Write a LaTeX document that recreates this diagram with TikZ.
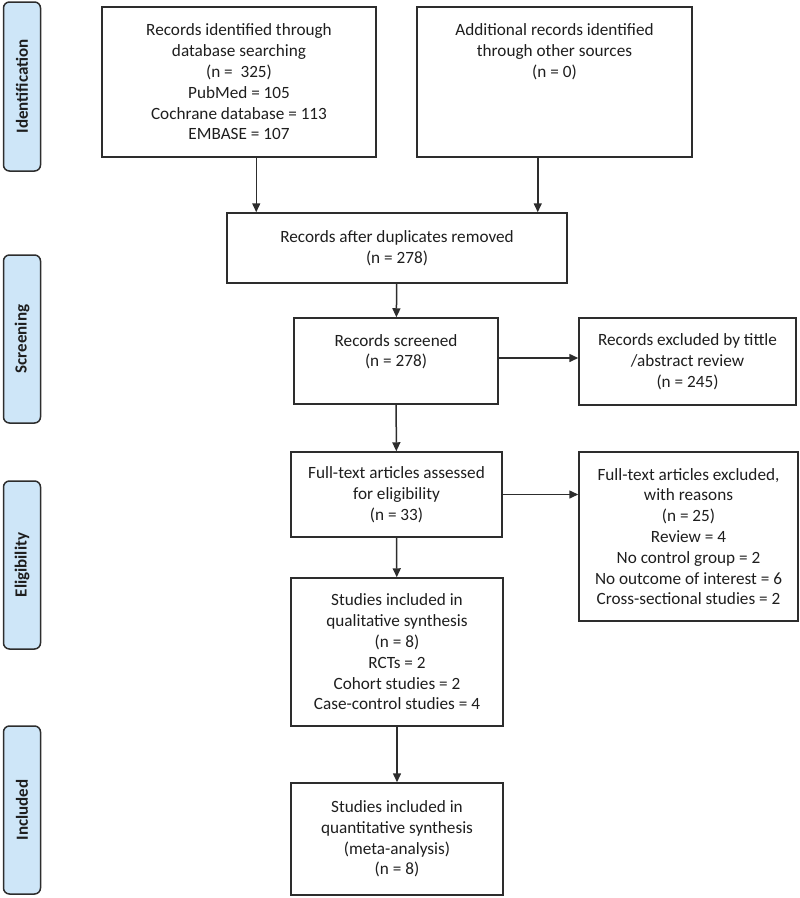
\documentclass[tikz,border=0pt]{standalone}
\usepackage{fontspec}
\setmainfont{Carlito}
\usetikzlibrary{positioning,arrows.meta,calc}
\definecolor{colorstage} {RGB}{206,230,248}
\definecolor{colorline}  {RGB}{ 45, 45, 45}
\definecolor{colortext}  {RGB}{ 30, 30, 30}

\begin{document}
\begin{tikzpicture}[
    x=1pt, y=-1pt, thick,
    stage/.style={draw=colorline,fill=colorstage,line width=1.5pt,rounded corners=6pt,
        minimum width=37pt,minimum height=168pt,inner sep=0pt},
    stagetext/.style={text=colortext,font={\fontsize{17}{20}\selectfont\bfseries},rotate=90},
    box/.style={draw=colorline,line width=1.5pt,align=center,inner sep=0pt,
        text=colortext,font={\fontsize{17.2}{20.8}\selectfont}},
    flow/.style={draw=colorline,line width=1.5pt,-{Triangle[length=9pt,width=8pt]}}
]
    \useasboundingbox (0,0) rectangle (800,898);

    % Stages
    \node[stage,minimum height=169pt] (sident) at (22,86.5) {};
    \node[stagetext] (tident) at (sident.center) {Identification};
    \node[stage] (sscreen) at (22,339) {};
    \node[stagetext] (tscreen) at (sscreen.center) {Screening};
    \node[stage] (selig) at (22,565) {};
    \node[stagetext] (telig) at (selig.center) {Eligibility};
    \node[stage] (sincl) at (22,810) {};
    \node[stagetext] (tincl) at (sincl.center) {Included};

    % Identification
    \node[box,minimum width=274pt,minimum height=150pt] (database) at (239,82)
        {Records identified through\\database searching\\(n = ~325)\\PubMed = 105\\Cochrane database = 113\\EMBASE = 107};
    \node[box,minimum width=275pt,minimum height=150pt] (other) at (554.5,82)
        {Additional records identified\\through other sources\\(n = 0)\\~\\~\\~};
    \node[box,minimum width=340pt,minimum height=70pt] (dedup) at (397,248)
        {Records after duplicates removed\\(n = 278)};

    % Arrows to duplicates removed
    \draw[flow] ([xshift=30]dedup.north west |- database.south) -- ([xshift=30]dedup.north west);
    \draw[flow] ([xshift=-30]dedup.north east |- other.south) -- ([xshift=-30]dedup.north east);

    % Screening
    \node[box,minimum width=204pt,minimum height=86pt] (screened) at (396,361)
        {Records screened\\(n = 278)\\~};
    \node[box,minimum width=217pt,minimum height=87pt] (excltitle) at (687.5,361.5)
        {Records excluded by tittle\\/abstract review\\(n = 245)};
    \draw[flow] (dedup) -- (screened);
    \draw[flow] ([yshift=3]screened.east) -- ([yshift=3]excltitle.west |- screened.east);

    % Eligibility
    \node[box,minimum width=211pt,minimum height=85pt] (fulltext) at (396.5,494.5)
        {Full-text articles assessed\\for eligibility\\(n = 33)};
    \node[box,minimum width=219pt,minimum height=169pt] (exclfull) at (688.5,536.5)
        {Full-text articles excluded,\\with reasons\\(n = 25)\\Review = 4\\No control group = 2\\No outcome of interest = 6\\Cross-sectional studies = 2};
    \draw[flow] (screened) -- (fulltext);
    \draw[flow] (fulltext.east) -- (exclfull.west |- fulltext.east);
    \node[box,minimum width=212pt,minimum height=148pt] (qualit) at (397,652)
        {Studies included in\\qualitative synthesis\\(n = 8)\\RCTs = 2\\Cohort studies = 2\\Case-control studies = 4};
    \draw[flow] (fulltext) -- (qualit);

    % Included
    \node[box,minimum width=212pt,minimum height=112pt] (quantit) at (397,839)
        {Studies included in\\quantitative synthesis\\(meta-analysis)\\(n = 8)};
    \draw[flow] (qualit) -- (quantit);

\end{tikzpicture}
\end{document}
